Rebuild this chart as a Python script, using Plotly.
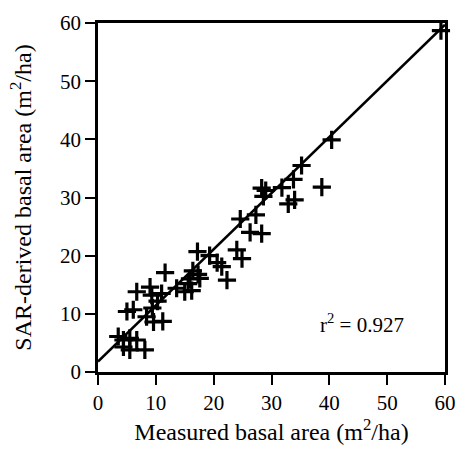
import plotly.graph_objects as go

measured = [3.5, 4.4, 5.5, 4.4, 5.5, 6.7, 8.1,
            5.0, 6.1,
            6.7, 9.0, 9.3, 11.0,
            9.4, 8.4, 9.6, 11.2, 10.3,
            11.6,
            13.6, 15.0, 16.2, 15.6, 15.9, 16.4, 17.3, 17.6,
            17.2, 19.3, 20.6, 21.4, 22.3,
            24.0, 24.9,
            24.6, 26.3, 28.3, 27.3,
            28.3, 28.6, 29.0, 31.8, 32.9, 34.0, 33.8, 35.2, 38.7, 40.4, 59.3]
sar = [6.1, 5.5, 5.8, 4.3, 3.8, 5.5, 3.8,
       10.4, 10.7,
       13.8, 14.6, 13.2, 13.5,
       11.0, 9.5, 8.6, 8.7, 12.2,
       17.1,
       14.4, 13.8, 14.0, 15.2, 16.0, 17.4, 16.8, 16.1,
       20.7, 20.0, 18.8, 18.1, 15.8,
       21.0, 19.5,
       26.3, 24.0, 23.8, 27.0,
       31.6, 30.2, 31.2, 31.7, 28.9, 29.6, 33.1, 35.5, 31.8, 39.9, 58.7]

fit_x = [0, 60]
fit_y = [1.8, 59.7]

ticks = [0, 10, 20, 30, 40, 50, 60]
r2_label = "r<sup>2</sup> = 0.927"

font_family = "Liberation Serif"

fig = go.Figure()
fig.add_trace(go.Scatter(x=fit_x, y=fit_y, mode="lines",
                         line=dict(color="black", width=2.5),
                         showlegend=False, cliponaxis=False))
fig.add_trace(go.Scatter(x=measured, y=sar, mode="markers",
                         marker=dict(symbol="cross-thin", size=13,
                                     line=dict(color="black", width=3.2),
                                     color="black"),
                         showlegend=False, cliponaxis=False))

fig.add_annotation(x=45.7, y=8.4, text=r2_label, showarrow=False,
                   font=dict(family=font_family, size=21, color="black"))

axis_common = dict(range=[0, 60], tickvals=ticks, showgrid=False, zeroline=False,
                   showline=True, linecolor="black", linewidth=2.5, mirror=True,
                   ticks="outside", ticklen=10, tickwidth=2, tickcolor="black",
                   automargin=False,
                   tickfont=dict(family=font_family, size=21, color="black"))

fig.update_xaxes(**axis_common,
                 title=dict(text="Measured basal area (m<sup>2</sup>/ha)",
                            font=dict(family=font_family, size=24, color="black"),
                            standoff=8))
fig.update_yaxes(**axis_common,
                 title=dict(text="SAR-derived basal area (m<sup>2</sup>/ha)",
                            font=dict(family=font_family, size=24, color="black"),
                            standoff=22))

fig.update_layout(width=458, height=455,
                  margin=dict(l=98, r=13, t=23, b=83),
                  paper_bgcolor="white", plot_bgcolor="white")

fig.write_html("out.html", config={"displayModeBar": False},
               post_script="document.body.style.margin='0';document.body.style.overflow='hidden';")
